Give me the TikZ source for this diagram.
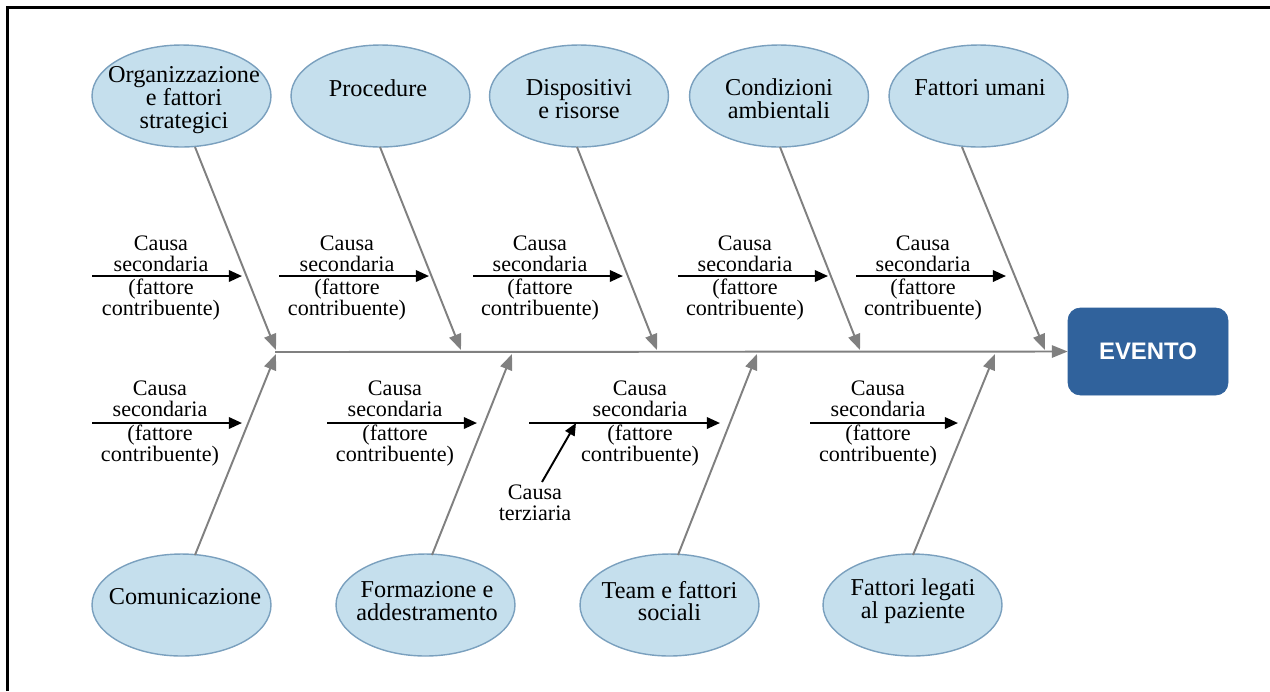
\documentclass[tikz,border=0pt]{standalone}
\usepackage{fontspec}
\setmainfont{Liberation Serif}
\newfontfamily\evfont{Liberation Sans}
\usetikzlibrary{arrows.meta,shapes.geometric}
\definecolor{ellfill}{RGB}{197,223,237}
\definecolor{elldraw}{RGB}{122,160,190}
\definecolor{bonegray}{RGB}{128,128,128}
\definecolor{evblue}{RGB}{48,98,156}
\tikzset{
  ell/.style={ellipse, draw=elldraw, fill=ellfill, line width=0.8pt, inner sep=0pt, minimum width=3.58cm, minimum height=2.04cm},
  etext/.style={align=center, inner sep=0pt, font=\fontsize{13.8}{12.9}\selectfont},
  ctext/.style={align=center, inner sep=0pt, font=\fontsize{12.6}{11.9}\selectfont},
  bone/.style={draw=bonegray, line width=1.1pt, -{Triangle[length=9pt,width=7pt]}},
  secarrow/.style={draw=black, line width=1.3pt, -{Triangle[length=7.5pt,width=6.5pt]}},
  evbox/.style={rectangle, rounded corners=7pt, fill=evblue, draw=evblue, minimum width=3.2cm, minimum height=1.74cm, inner sep=0pt, text=white, font=\evfont\bfseries\fontsize{13.6}{14}\selectfont}
}
\begin{document}
\begin{tikzpicture}[x=0.02cm,y=-0.02cm]
\useasboundingbox (0,0) rectangle (1270,691);
\fill[white] (0,0) rectangle (1270,691);
% frame
\draw[line width=1.7pt] (7.5,691) -- (7.5,7.5) -- (1270,7.5);

% event box
\node[evbox] (ev) at (1148,351.5) {EVENTO};

% spine
\coordinate (sp0) at (275,352);
\draw[bone] (sp0) -- (ev.west);

% top ellipses
\node[ell] (e1) at (181.5,96) {};
\node[etext] (t1) at (184,100) {Organizzazione\\e fattori\\strategici};
\node[ell] (e2) at (380.5,96) {};
\node[etext] (t2) at (378,88) {Procedure};
\node[ell] (e3) at (579,96) {};
\node[etext] (t3) at (579,99) {Dispositivi\\e risorse};
\node[ell] (e4) at (779,96) {};
\node[etext] (t4) at (779,99) {Condizioni\\ambientali};
\node[ell] (e5) at (978.5,96) {};
\node[etext] (t5) at (980,88) {Fattori umani};

% bottom ellipses
\node[ell] (b1) at (181.5,605) {};
\node[etext] (u1) at (185,597) {Comunicazione};
\node[ell] (b2) at (425.5,605) {};
\node[etext] (u2) at (427,601) {Formazione e\\addestramento};
\node[ell] (b3) at (669.5,605) {};
\node[etext] (u3) at (669.5,601) {Team e fattori\\sociali};
\node[ell] (b4) at (912.5,605) {};
\node[etext] (u4) at (913,601) {Fattori legati\\al paziente};

% spine points
\coordinate (s1) at (276,350);
\coordinate (s2) at (461,350);
\coordinate (s3) at (657,350);
\coordinate (s4) at (860,350);
\coordinate (s5) at (1045,350);
\coordinate (r1) at (276,354);
\coordinate (r2) at (512,354);
\coordinate (r3) at (757,354);
\coordinate (r4) at (995,354);

% top bones
\coordinate (a1) at (195,147);
\coordinate (a2) at (380,147);
\coordinate (a3) at (577,147);
\coordinate (a4) at (780,147);
\coordinate (a5) at (962,147);
\draw[bone] (a1) -- (s1);
\draw[bone] (a2) -- (s2);
\draw[bone] (a3) -- (s3);
\draw[bone] (a4) -- (s4);
\draw[bone] (a5) -- (s5);

% bottom bones
\coordinate (c1) at (195,555);
\coordinate (c2) at (432,555);
\coordinate (c3) at (678,555);
\coordinate (c4) at (913,555);
\draw[bone] (c1) -- (r1);
\draw[bone] (c2) -- (r2);
\draw[bone] (c3) -- (r3);
\draw[bone] (c4) -- (r4);

% secondary arrows, top row
\foreach \i/\xa/\xb/\xl in {1/92/242/161, 2/279/429/347, 3/473/623/540, 4/678/828/745, 5/856/1006/923}{
  \coordinate (hs\i) at (\xa,276);
  \coordinate (he\i) at (\xb,276);
  \draw[secarrow] (hs\i) -- (he\i);
  \node[ctext] (ha\i) at (\xl,253.5) {Causa\\secondaria};
  \node[ctext] (hb\i) at (\xl,300) {(fattore\\contribuente)};
}
% secondary arrows, bottom row
\foreach \i/\xa/\xb/\xl in {1/92/242/160, 2/327/477/395, 3/529/720/640, 4/810/958/878}{
  \coordinate (ls\i) at (\xa,423);
  \coordinate (le\i) at (\xb,423);
  \draw[secarrow] (ls\i) -- (le\i);
  \node[ctext] (la\i) at (\xl,399) {Causa\\secondaria};
  \node[ctext] (lb\i) at (\xl,446) {(fattore\\contribuente)};
}

% tertiary cause
\node[ctext] (ct) at (535,503) {Causa\\terziaria};
\coordinate (tst) at (542,482);
\coordinate (tt) at (576,423);
\draw[draw=black, line width=1.1pt, -{Triangle[length=7pt,width=6pt]}] (tst) -- (tt);
\end{tikzpicture}
\end{document}
